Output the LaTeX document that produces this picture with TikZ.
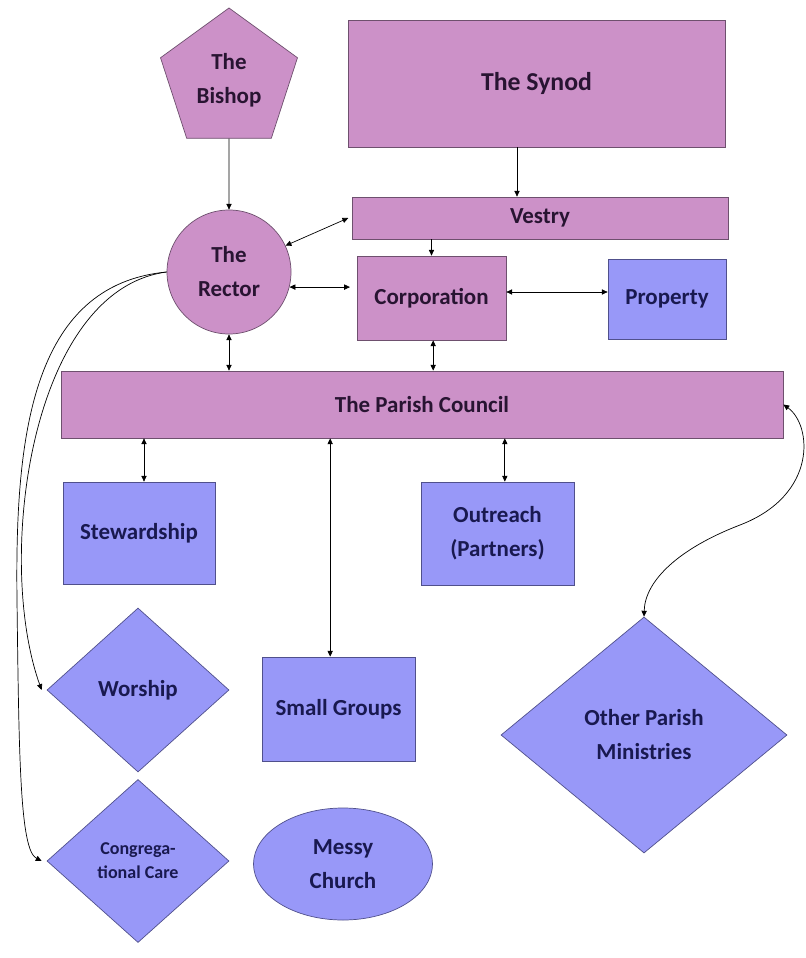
\documentclass[tikz,border=0pt]{standalone}
\usepackage{fontspec}
\setmainfont{Carlito}
\usetikzlibrary{shapes.geometric,arrows.meta}

\definecolor{parishpurple}{RGB}{204,145,200}
\definecolor{ministryblue}{RGB}{152,152,248}
\definecolor{edgepurple}{RGB}{110,80,110}
\definecolor{edgeblue}{RGB}{80,80,140}
\definecolor{inkpurple}{RGB}{40,20,50}
\definecolor{inkblue}{RGB}{25,25,80}

\tikzset{
  purplebox/.style={draw=edgepurple, fill=parishpurple, text=inkpurple, line width=0.6pt,
    font=\bfseries\fontsize{19.6}{29}\selectfont, align=center, inner sep=0pt},
  bluebox/.style={draw=edgeblue, fill=ministryblue, text=inkblue, line width=0.6pt,
    font=\bfseries\fontsize{19.6}{29}\selectfont, align=center, inner sep=0pt},
  arr/.style={-{Triangle[length=5pt,width=4.5pt]}, line width=0.6pt},
  dblarr/.style={{Triangle[length=5pt,width=4.5pt]}-{Triangle[length=5pt,width=4.5pt]}, line width=0.6pt},
}

\begin{document}
\begin{tikzpicture}[x=0.03cm,y=-0.03cm]
 \useasboundingbox (0,0) rectangle (805,958);

 % the top of the church
 \node [purplebox, regular polygon, regular polygon sides=5, minimum size=4.32cm] (bishop) at (229,80) {The\\Bishop};
 \node [purplebox, rectangle, minimum width=11.31cm, minimum height=3.81cm, font=\bfseries\fontsize{22}{29}\selectfont] (synod) at (536.5,83.5) {The Synod};
 \node [purplebox, rectangle, minimum width=11.28cm, minimum height=1.26cm] (vestry) at (540,218) {Vestry};
 \node [purplebox, circle, minimum size=3.72cm] (rector) at (229,272) {The\\Rector};
 \node [purplebox, rectangle, minimum width=4.47cm, minimum height=2.52cm] (corporation) at (431.5,298) {Corporation};
 \node [bluebox, rectangle, minimum width=3.54cm, minimum height=2.4cm] (property) at (667,299) {Property};
 \node [purplebox, rectangle, minimum width=21.66cm, minimum height=2.01cm] (council) at (422,404.5) {The Parish Council};

 % the ministries
 \node [bluebox, rectangle, minimum width=4.56cm, minimum height=3.06cm] (stewardship) at (139,533) {Stewardship};
 \node [bluebox, rectangle, minimum width=4.59cm, minimum height=3.09cm] (outreach) at (497.5,533.5) {Outreach\\(Partners)};
 \node [bluebox, rectangle, minimum width=4.59cm, minimum height=3.12cm] (smallgroups) at (338.5,709) {Small Groups};
 \node [bluebox, diamond, minimum width=5.46cm, minimum height=4.92cm] (worship) at (138,690) {Worship};
 \node [bluebox, diamond, minimum width=5.46cm, minimum height=4.89cm, font=\bfseries\fontsize{15.4}{20.5}\selectfont] (congcare) at (138,861) {Congrega-\\tional Care};
 \node [bluebox, ellipse, minimum width=5.37cm, minimum height=3.36cm] (messy) at (343,864) {Messy\\Church};
 \node [bluebox, diamond, minimum width=8.58cm, minimum height=7.08cm] (otherpm) at (644,735) {Other Parish\\Ministries};

 % who answers to whom
 \draw [arr] (bishop.south) -- (rector.north);
 \draw [arr] ([xshift=-0.585cm]synod.south) -- ([xshift=-0.585cm]synod.south |- vestry.north);
 \draw [arr] (vestry.south -| corporation.north) -- (corporation.north);
 \draw [dblarr] (rector.25) -- ([xshift=-0.1cm]vestry.west);
 \draw [dblarr] (rector.-14) -- ([xshift=-0.2cm]rector.-14 -| corporation.west);
 \draw [dblarr] ([yshift=0.18cm]corporation.east) -- ([yshift=0.18cm]corporation.east -| property.west);
 \draw [dblarr] (rector.south) -- (rector.south |- council.north);
 \draw [dblarr] ([xshift=0.05cm]corporation.south) -- ([xshift=0.05cm]corporation.south |- council.north);
 \draw [dblarr] ([xshift=0.15cm]council.south -| stewardship.north) -- ([xshift=0.15cm]stewardship.north);
 \draw [dblarr] ([xshift=-0.25cm]council.south -| smallgroups.north) -- ([xshift=-0.25cm]smallgroups.north);
 \draw [dblarr] ([xshift=0.22cm]council.south -| outreach.north) -- ([xshift=0.22cm]outreach.north);
 \draw [dblarr] (council.east) .. controls (812,425) and (818,495) .. (740,525)
   .. controls (680,548) and (645,580) .. (otherpm.north);

 % the rector's own ministries
 \draw [arr] (rector.west) .. controls (30,290) and (-5,560) .. ([xshift=-0.15cm]worship.west);
 \draw [arr] (rector.west) .. controls (30,285) and (15,440) .. (17,600)
   .. controls (19,760) and (20,850) .. ([xshift=-0.15cm]congcare.west);
\end{tikzpicture}
\end{document}
